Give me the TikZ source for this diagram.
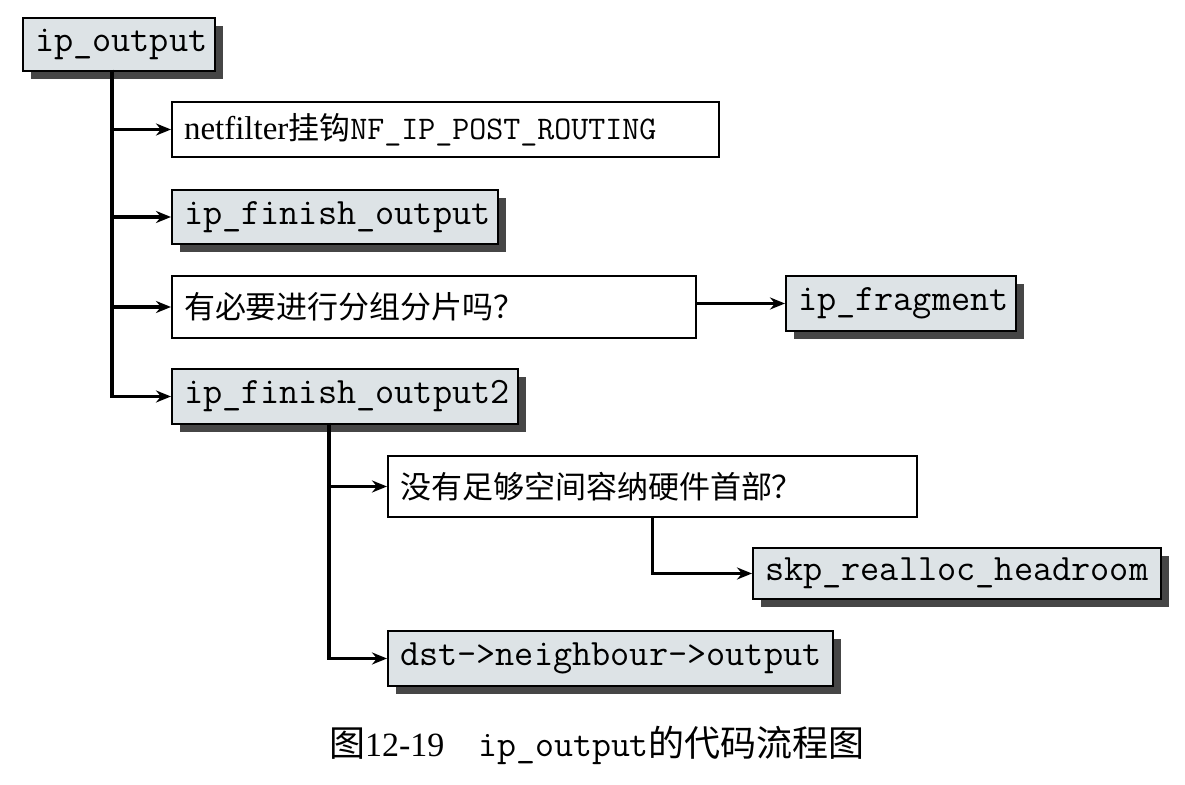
\documentclass[tikz,border=0pt]{standalone}
\usepackage{fontspec}
\setmainfont{Liberation Serif}
\newfontfamily\cjk{Noto Sans CJK SC}
\usetikzlibrary{arrows.meta,shadows,positioning}
\definecolor{boxgray}{RGB}{221,227,230}
\definecolor{shadowgray}{RGB}{70,70,70}
\tikzset{
	every node/.style={
		font=\fontsize{15.5}{18}\selectfont
	},
	text node/.style={
		shape=rectangle,
		anchor=north west,
		draw,
		line width=1pt,
		fill=white,
		inner xsep=6pt,
		inner ysep=0pt,
		align=left,
	},
	code node/.style={
		text node,
		fill=boxgray,
		font=\fontsize{18.6}{20}\selectfont\ttfamily,
		drop shadow={shadow xshift=4pt,shadow yshift=-4pt,fill=shadowgray,opacity=1},
	},
	myarrow/.style={-{Stealth[length=7.5pt,width=6pt]},line width=1.6pt},
}

\begin{document}
\begin{tikzpicture}[x=0.5pt,y=-0.5pt]
	\useasboundingbox (0,0) rectangle (1185,785);
	
	\node[code node, text width=84pt, minimum height=26.5pt] (out) at (22,17) {ip\_output};
	\node[text node, text width=261.5pt, minimum height=27.5pt] (nf) at (171,101) {{\fontsize{16.5}{18}\selectfont netfilter}{\cjk 挂钩}{\ttfamily\fontsize{16.5}{18}\selectfont NF\_IP\_POST\_ROUTING}};
	\node[code node, text width=151pt, minimum height=27pt] (fin) at (171,189) {ip\_finish\_output};
	\node[text node, text width=250pt, minimum height=31pt] (frag q) at (171,275) {\cjk 有必要进行分组分片吗？};
	\node[code node, text width=161pt, minimum height=27.5pt] (fin2) at (171,368) {ip\_finish\_output2};
	\node[code node, text width=103pt, minimum height=27.5pt] (frag) at (785,275) {ip\_fragment};
	\node[text node, text width=252.5pt, minimum height=30.5pt] (head q) at (387,455) {\cjk 没有足够空间容纳硬件首部？};
	\node[code node, text width=192pt, minimum height=25.5pt] (realloc) at (752,547) {skp\_realloc\_headroom};
	\node[code node, text width=210.5pt, minimum height=27.5pt] (neigh) at (387,630) {dst->neighbour->output};
	
	\coordinate (t1) at (112,70);
	\coordinate (t2) at (329,423);
	
	\draw[myarrow] (t1) |- (nf.west);
	\draw[myarrow] (t1) |- (fin.west);
	\draw[myarrow] (t1) |- (frag q.west);
	\draw[myarrow] (t1) |- (fin2.west);
	\draw[myarrow] (frag.west -| frag q.east) -- (frag.west);
	\draw[myarrow] (t2) |- (head q.west);
	\draw[myarrow] (t2) |- (neigh.west);
	\draw[myarrow] (head q.south) |- (realloc.west);
	
	\node[font=\fontsize{17}{20}\selectfont] (caption) at (597,745) {{\cjk\fontsize{18}{20}\selectfont 图}12-19\hspace{1em}{\ttfamily\fontsize{18.4}{20}\selectfont ip\_output}{\cjk\fontsize{18}{20}\selectfont 的代码流程图}};
	
\end{tikzpicture}
\end{document}
